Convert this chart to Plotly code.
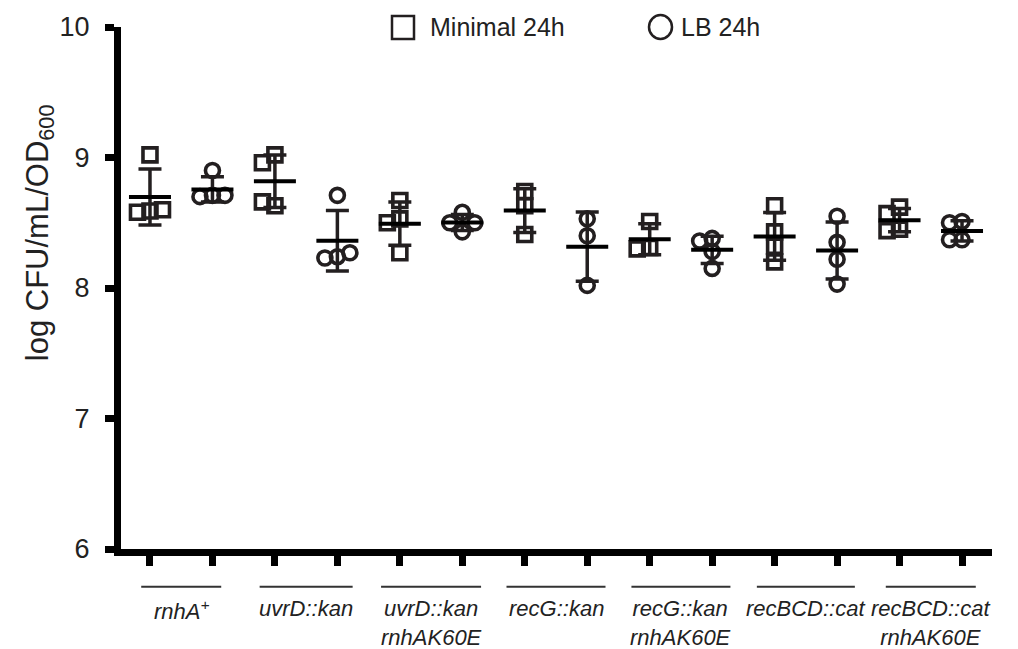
import numpy as np
import plotly.graph_objects as go

# ---------------- data ----------------
group_labels = [
    "<i>rnhA<sup>+</sup></i>",
    "<i>uvrD::kan</i>",
    "<i>uvrD::kan<br>rnhAK60E</i>",
    "<i>recG::kan</i>",
    "<i>recG::kan<br>rnhAK60E</i>",
    "<i>recBCD::cat</i>",
    "<i>recBCD::cat<br>rnhAK60E</i>",
]
minimal_24h = [
    [9.02, 8.59, 8.58, 8.60],
    [9.02, 8.96, 8.63, 8.66],
    [8.67, 8.53, 8.50, 8.27],
    [8.74, 8.63, 8.41],
    [8.51, 8.31, 8.30],
    [8.63, 8.43, 8.32, 8.20],
    [8.62, 8.57, 8.45, 8.44],
]
lb_24h = [
    [8.90, 8.71, 8.70, 8.71],
    [8.71, 8.24, 8.23, 8.27],
    [8.58, 8.50, 8.50, 8.43],
    [8.53, 8.40, 8.02],
    [8.38, 8.36, 8.28, 8.15],
    [8.55, 8.35, 8.22, 8.03],
    [8.51, 8.50, 8.37, 8.37],
]
y_ticks = [6, 7, 8, 9, 10]
series_names = ["Minimal 24h", "LB 24h"]

# ---------------- layout constants ----------------
W, H = 1018, 649
ML, MR, MT, MB = 121, 26, 25, 100
PW, PH = W - ML - MR, H - MT - MB
X_RANGE = [-0.464, 13.48]
Y_RANGE = [6, 10]
PX_X = PW / (X_RANGE[1] - X_RANGE[0])
PX_Y = PH / (Y_RANGE[1] - Y_RANGE[0])
INK = "#231f20"
FONT = "Arial, 'Liberation Sans', sans-serif"


def swarm(vals, step=12.5, thresh=12.0):
    """Greedy beeswarm offsets (in x data units) so markers don't pile up."""
    placed = []
    offs = []
    for v in vals:
        for k in [0, -1, 1, -2, 2, -3, 3]:
            dx = k * step
            ok = all(np.hypot(dx - px, (v - pv) * PX_Y) >= thresh for px, pv in placed)
            if ok:
                placed.append((dx, v))
                offs.append(dx / PX_X)
                break
    return offs


fig = go.Figure()

for s_idx, (series, symbol) in enumerate(zip([minimal_24h, lb_24h], ["square-open", "circle-open"])):
    xs, ys, mx, my, me = [], [], [], [], []
    for g, vals in enumerate(series):
        col = 2 * g + s_idx
        offs = swarm(vals)
        xs += [col + o for o in offs]
        ys += vals
        arr = np.array(vals)
        mx.append(col)
        my.append(arr.mean())
        me.append(arr.std(ddof=1))
    fig.add_trace(go.Scatter(
        x=xs, y=ys, mode="markers", name=series_names[s_idx], showlegend=False,
        marker=dict(symbol=symbol, size=14, color=INK, line=dict(width=3.6, color=INK)),
    ))
    fig.add_trace(go.Scatter(
        x=mx, y=my, mode="markers", showlegend=False,
        marker=dict(symbol="line-ew", size=30, color="black", line=dict(width=4, color="black")),
        error_y=dict(type="data", array=me, visible=True, thickness=3.5, width=11.5, color=INK),
    ))

# group underlines and labels
under_w = [80, 93, 100, 99, 99, 98, 90]
for g, lab in enumerate(group_labels):
    c = 2 * g + 0.5
    hw = under_w[g] / 2 / PX_X
    yl = -(587 - (MT + PH)) / PH
    fig.add_shape(type="line", xref="x", yref="paper", x0=c - hw, x1=c + hw,
                  y0=yl, y1=yl, line=dict(color="#333", width=2))
    fig.add_annotation(x=c, xref="x", y=-(594 - (MT + PH)) / PH, yref="paper",
                       text=lab, showarrow=False, yanchor="top", xanchor="center",
                       font=dict(family=FONT, size=22, color="#222"))

# y-axis title
fig.add_annotation(x=(40 - ML) / PW, xref="paper", y=((MT + PH) - 232) / PH, yref="paper",
                   text="log CFU/mL/OD<sub>600</sub>", showarrow=False, textangle=-90,
                   xanchor="center", yanchor="middle",
                   font=dict(family=FONT, size=31, color="#222"))


# legend (manual)
def px2paper(px, py):
    return (px - ML) / PW, ((MT + PH) - py) / PH


lx0, ly0 = px2paper(392, 14)
lx1, ly1 = px2paper(414, 37)
fig.add_shape(type="rect", xref="paper", yref="paper", x0=lx0, x1=lx1, y0=ly0, y1=ly1,
              line=dict(color=INK, width=2.5))
cx0, cy0 = px2paper(649, 13)
cx1, cy1 = px2paper(672, 37)
fig.add_shape(type="circle", xref="paper", yref="paper", x0=cx0, x1=cx1, y0=cy0, y1=cy1,
              line=dict(color=INK, width=2.5))
tx, ty = px2paper(428, 25)
fig.add_annotation(x=tx, y=ty, xref="paper", yref="paper", text=series_names[0], showarrow=False,
                   xanchor="left", yanchor="middle", font=dict(family=FONT, size=25, color="#222"))
tx, ty = px2paper(679, 25)
fig.add_annotation(x=tx, y=ty, xref="paper", yref="paper", text=series_names[1], showarrow=False,
                   xanchor="left", yanchor="middle", font=dict(family=FONT, size=25, color="#222"))

fig.update_layout(
    width=W, height=H, margin=dict(l=ML, r=MR, t=MT, b=MB),
    paper_bgcolor="white", plot_bgcolor="white", showlegend=False,
    font=dict(family=FONT, color="#222"),
    xaxis=dict(range=X_RANGE, showgrid=False, zeroline=False, showline=True, linewidth=7,
               linecolor="black", ticks="outside", ticklen=10, tickwidth=7, tickcolor="black",
               tickmode="array", tickvals=list(range(14)), showticklabels=False),
    yaxis=dict(range=Y_RANGE, showgrid=False, zeroline=False, showline=True, linewidth=7,
               linecolor="black", ticks="outside", ticklen=9, tickwidth=7, tickcolor="black",
               tickmode="array", tickvals=y_ticks, ticktext=[str(t) for t in y_ticks],
               ticklabelstandoff=10,
               tickfont=dict(family=FONT, size=27, color="#222")),
)

fig.write_html("out.html", config={"displayModeBar": False},
               post_script="document.body.style.margin='0';")
